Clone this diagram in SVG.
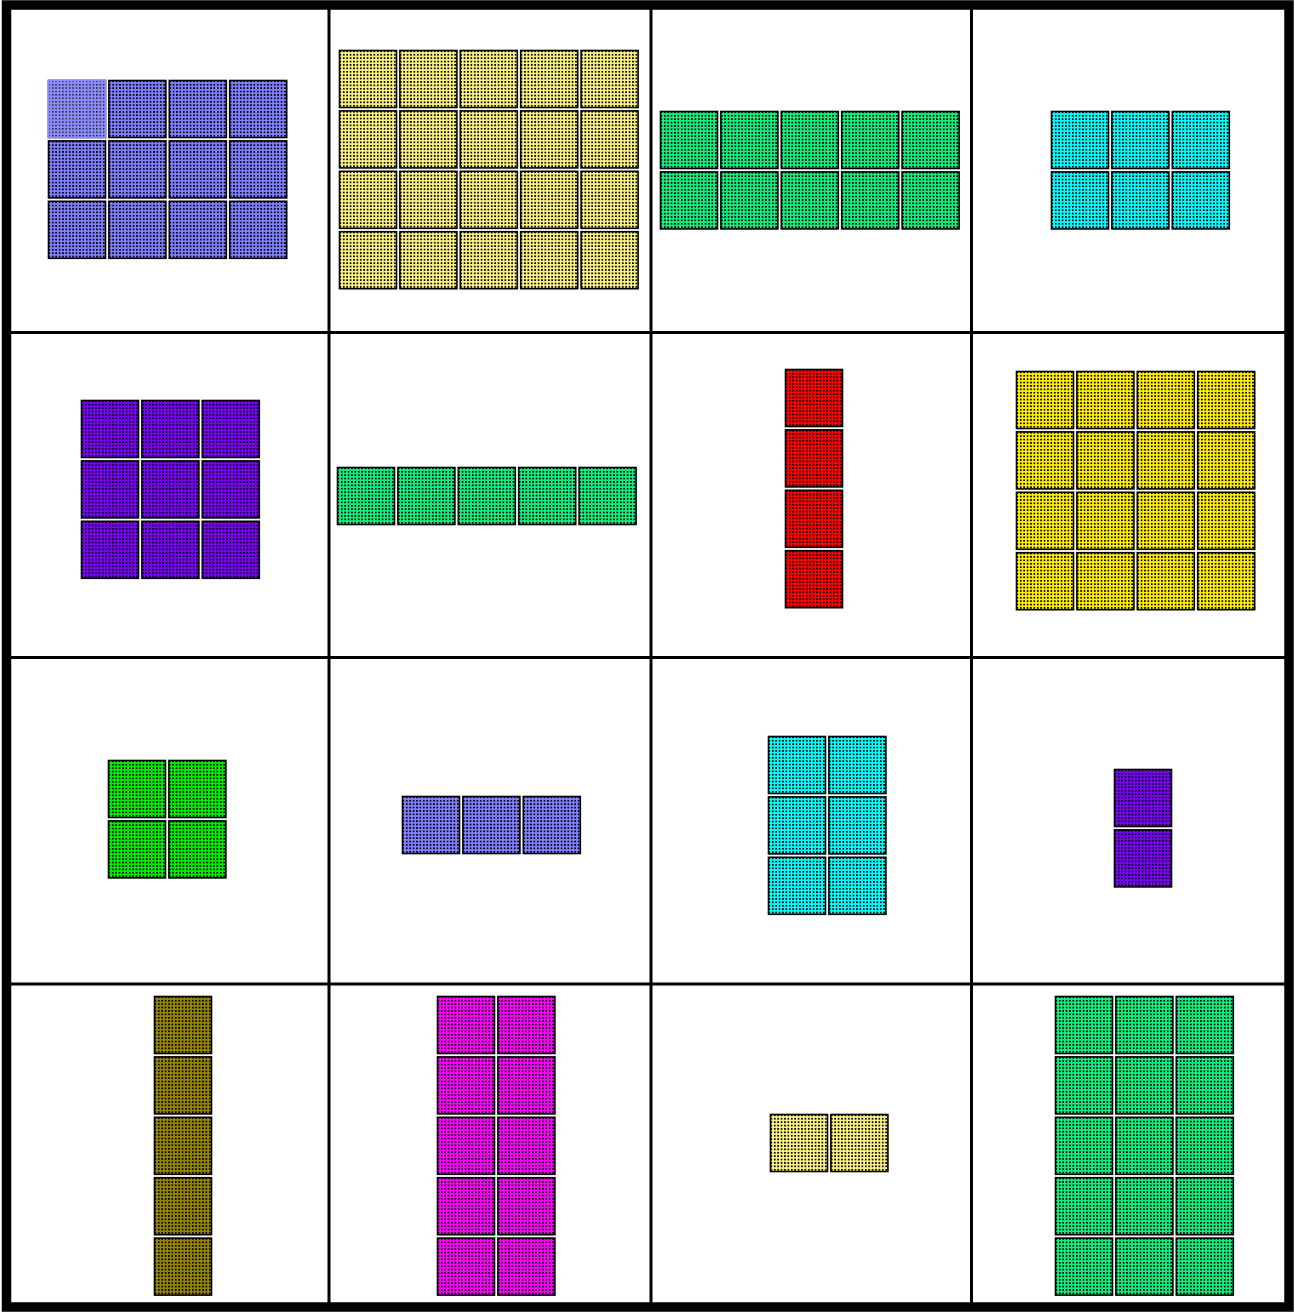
<svg xmlns="http://www.w3.org/2000/svg" xmlns:xlink="http://www.w3.org/1999/xlink" width="1295" height="1312" viewBox="0 0 1295 1312">
<defs>
<style>
.tiles{stroke:#000;stroke-width:1.6}
.blue{fill:url(#pBlue)}
.lyel{fill:url(#pLYel)}
.emer{fill:url(#pEmer)}
.cyan{fill:url(#pCyan)}
.purp{fill:url(#pPurp)}
.red{fill:url(#pRed)}
.yel{fill:url(#pYel)}
.grn{fill:url(#pGrn)}
.olive{fill:url(#pOlive)}
.mag{fill:url(#pMag)}
.grid line{stroke:#000;stroke-width:3}
</style>
<pattern id="pBlue" patternUnits="userSpaceOnUse" width="3.4" height="3.4"><rect width="3.4" height="3.4" fill="#8080ff"/><rect width="1.7" height="1.7" fill="#000"/></pattern>
<pattern id="pBlueL" patternUnits="userSpaceOnUse" width="3.4" height="3.4"><rect width="3.4" height="3.4" fill="#8c8cff"/><rect width="1.5" height="1.5" fill="#222"/></pattern>
<pattern id="pLYel" patternUnits="userSpaceOnUse" width="3.4" height="3.4"><rect width="3.4" height="3.4" fill="#f8f080"/><rect width="1.7" height="1.7" fill="#000"/></pattern>
<pattern id="pEmer" patternUnits="userSpaceOnUse" width="3.4" height="3.4"><rect width="3.4" height="3.4" fill="#10f080"/><rect width="1.7" height="1.7" fill="#000"/></pattern>
<pattern id="pCyan" patternUnits="userSpaceOnUse" width="3.4" height="3.4"><rect width="3.4" height="3.4" fill="#00ffff"/><rect width="1.7" height="1.7" fill="#000"/></pattern>
<pattern id="pPurp" patternUnits="userSpaceOnUse" width="3.4" height="3.4"><rect width="3.4" height="3.4" fill="#7a00f8"/><rect width="1.7" height="1.7" fill="#000"/></pattern>
<pattern id="pRed" patternUnits="userSpaceOnUse" width="3.4" height="3.4"><rect width="3.4" height="3.4" fill="#ff0000"/><rect width="1.7" height="1.7" fill="#000"/></pattern>
<pattern id="pYel" patternUnits="userSpaceOnUse" width="3.4" height="3.4"><rect width="3.4" height="3.4" fill="#ffee00"/><rect width="1.7" height="1.7" fill="#000"/></pattern>
<pattern id="pGrn" patternUnits="userSpaceOnUse" width="3.4" height="3.4"><rect width="3.4" height="3.4" fill="#00ee00"/><rect width="1.7" height="1.7" fill="#000"/></pattern>
<pattern id="pOlive" patternUnits="userSpaceOnUse" width="3.4" height="3.4"><rect width="3.4" height="3.4" fill="#958500"/><rect width="1.7" height="1.7" fill="#000"/></pattern>
<pattern id="pMag" patternUnits="userSpaceOnUse" width="3.4" height="3.4"><rect width="3.4" height="3.4" fill="#ff00ff"/><rect width="1.7" height="1.7" fill="#000"/></pattern>
<rect id="t" width="57" height="57"/>
<g id="r2"><use href="#t"/><use href="#t" x="60.4"/></g>
<g id="r3"><use href="#r2"/><use href="#t" x="120.8"/></g>
<g id="r4"><use href="#r3"/><use href="#t" x="181.2"/></g>
<g id="r5"><use href="#r4"/><use href="#t" x="241.6"/></g>
</defs>
<rect width="1295" height="1312" fill="#fff"/>
<g class="grid">
<line x1="329" y1="5" x2="329" y2="1307"/>
<line x1="651" y1="5" x2="651" y2="1307"/>
<line x1="971.5" y1="5" x2="971.5" y2="1307"/>
<line x1="6.5" y1="332.5" x2="1289" y2="332.5"/>
<line x1="6.5" y1="657.5" x2="1289" y2="657.5"/>
<line x1="6.5" y1="984" x2="1289" y2="984"/>
<rect x="6.5" y="5" width="1282.5" height="1302" fill="none" stroke="#000" stroke-width="9.5"/>
</g>
<g class="tiles">
<g id="cell-1-1" class="blue" transform="translate(48.5,80.5)">
<use href="#r4"/><use href="#r4" y="60.4"/><use href="#r4" y="120.8"/>
<rect width="57" height="57" fill="url(#pBlueL)" stroke="#8c8cff" stroke-width="1.6"/>
</g>
<g id="cell-1-2" class="lyel" transform="translate(339.5,50.5)">
<use href="#r5"/><use href="#r5" y="60.4"/><use href="#r5" y="120.8"/><use href="#r5" y="181.2"/>
</g>
<g id="cell-1-3" class="emer" transform="translate(660.5,111.5)">
<use href="#r5"/><use href="#r5" y="60.4"/>
</g>
<g id="cell-1-4" class="cyan" transform="translate(1051.5,111.5)">
<use href="#r3"/><use href="#r3" y="60.4"/>
</g>
<g id="cell-2-1" class="purp" transform="translate(81.5,400.5)">
<use href="#r3"/><use href="#r3" y="60.4"/><use href="#r3" y="120.8"/>
</g>
<g id="cell-2-2" class="emer" transform="translate(337.5,467.5)">
<use href="#r5"/>
</g>
<g id="cell-2-3" class="red" transform="translate(785.5,369.5)">
<use href="#t"/><use href="#t" y="60.4"/><use href="#t" y="120.8"/><use href="#t" y="181.2"/>
</g>
<g id="cell-2-4" class="yel" transform="translate(1016.5,371.5)">
<use href="#r4"/><use href="#r4" y="60.4"/><use href="#r4" y="120.8"/><use href="#r4" y="181.2"/>
</g>
<g id="cell-3-1" class="grn" transform="translate(108.5,760.5)">
<use href="#r2"/><use href="#r2" y="60.4"/>
</g>
<g id="cell-3-2" class="blue" transform="translate(402.5,796.5)">
<use href="#r3"/>
</g>
<g id="cell-3-3" class="cyan" transform="translate(768.5,736.5)">
<use href="#r2"/><use href="#r2" y="60.4"/><use href="#r2" y="120.8"/>
</g>
<g id="cell-3-4" class="purp" transform="translate(1114.5,769.5)">
<use href="#t"/><use href="#t" y="60.4"/>
</g>
<g id="cell-4-1" class="olive" transform="translate(154.5,996.5)">
<use href="#t"/><use href="#t" y="60.4"/><use href="#t" y="120.8"/><use href="#t" y="181.2"/><use href="#t" y="241.6"/>
</g>
<g id="cell-4-2" class="mag" transform="translate(437.5,996.5)">
<use href="#r2"/><use href="#r2" y="60.4"/><use href="#r2" y="120.8"/><use href="#r2" y="181.2"/><use href="#r2" y="241.6"/>
</g>
<g id="cell-4-3" class="lyel" transform="translate(770.5,1114.5)">
<use href="#r2"/>
</g>
<g id="cell-4-4" class="emer" transform="translate(1055.5,996.5)">
<use href="#r3"/><use href="#r3" y="60.4"/><use href="#r3" y="120.8"/><use href="#r3" y="181.2"/><use href="#r3" y="241.6"/>
</g>
</g>
</svg>
